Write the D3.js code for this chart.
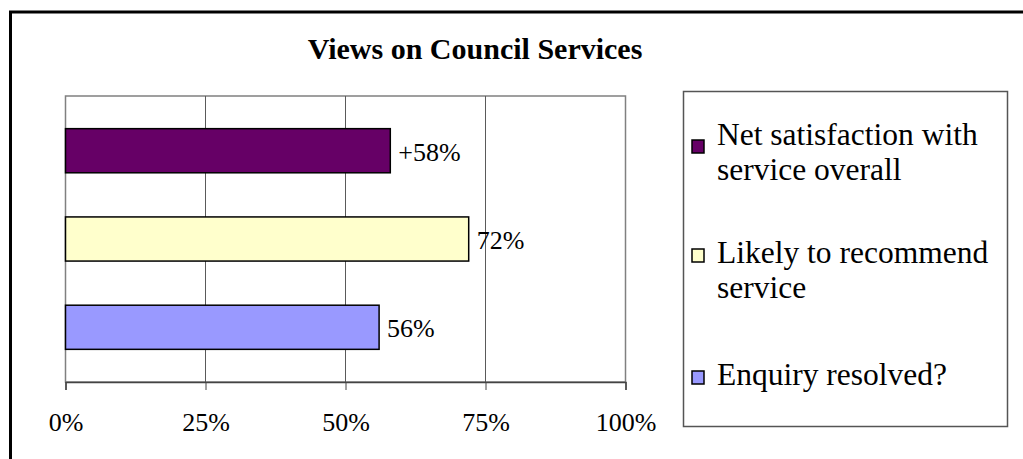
<!DOCTYPE html>
<html>
<head>
<meta charset="utf-8">
<script src="https://cdn.jsdelivr.net/npm/d3@7"></script>
<style>
    body { margin: 0; background: white; overflow: hidden; }
</style>
</head>
<body>
<script>
// values
let categories = [
    "Net satisfaction with service overall",
    "Likely to recommend service",
    "Enquiry resolved?",
]
let values = [58, 72, 56]
let labels = ["+58%", "72%", "56%"]
let legendLines = [
    ["Net satisfaction with", "service overall"],
    ["Likely to recommend", "service"],
    ["Enquiry resolved?"],
]
let ticks = [0, 25, 50, 75, 100]

const c = {
    purple: "#660066",
    yellow: "#FFFFCC",
    blue:   "#9999FF",
    grid:   "#5a5a5a",
    frame:  "#808080",
    black:  "#000000",
}
const colors = [c.purple, c.yellow, c.blue]
const font = "'Liberation Serif', 'Times New Roman', serif"

function setCanvas(w, h) {
    return d3.select("body")
        .append("svg")
            .attr("width", w)
            .attr("height", h)
            .style("font-family", font)
}

function draw() {
    const svg = setCanvas(1023, 459)
    const p = {left: 65.5, right: 625.5, top: 96, bottom: 382}

    // outer chart frame (runs past the picture on the right and bottom)
    svg.append("rect")
        .attr("x", 10.5).attr("y", 12)
        .attr("width", 1040).attr("height", 480)
        .attr("fill", "white")
        .attr("stroke", c.black)
        .attr("stroke-width", 3)

    svg.append("text")
        .attr("x", 475).attr("y", 59)
        .attr("text-anchor", "middle")
        .attr("font-weight", "bold")
        .attr("font-size", 30)
        .text("Views on Council Services")

    const x = d3.scaleLinear()
        .domain([0, 100])
        .range([p.left, p.right])

    const y = d3.scaleBand()
        .domain(categories)
        .range([p.top, p.bottom])
        .paddingInner(0.5)
        .paddingOuter(0.37)

    // plot area frame
    svg.append("rect")
        .attr("x", p.left).attr("y", p.top)
        .attr("width", p.right - p.left).attr("height", p.bottom - p.top)
        .attr("fill", "none")
        .attr("stroke", c.frame)
        .attr("stroke-width", 1.5)

    svg.append("g")
        .selectAll("line")
        .data(ticks.slice(1, -1))
        .join("line")
            .attr("x1", d => x(d)).attr("x2", d => x(d))
            .attr("y1", p.top).attr("y2", p.bottom)
            .attr("stroke", c.grid)
            .attr("stroke-width", 1)

    const axis = svg.append("g")
        .attr("transform", `translate(0,${p.bottom})`)
        .call(d3.axisBottom(x)
            .tickValues(ticks)
            .tickFormat(d => d + "%")
            .tickSize(8)
            .tickPadding(23))
    axis.select(".domain").attr("stroke", "#444").attr("stroke-width", 1.5)
    axis.selectAll(".tick line").attr("stroke", "#444")
    axis.selectAll(".tick text")
        .attr("fill", c.black)
        .style("font-family", font)
        .style("font-size", "26px")

    svg.append("g")
        .selectAll("rect")
        .data(values)
        .join("rect")
            .attr("x", x(0))
            .attr("y", (d, i) => y(categories[i]))
            .attr("width", d => x(d) - x(0))
            .attr("height", y.bandwidth())
            .attr("fill", (d, i) => colors[i])
            .attr("stroke", c.black)
            .attr("stroke-width", 1.5)

    svg.append("g")
        .selectAll("text")
        .data(values)
        .join("text")
            .attr("x", d => x(d) + 8)
            .attr("y", (d, i) => y(categories[i]) + y.bandwidth() / 2)
            .attr("dy", "0.38em")
            .attr("font-size", 26)
            .text((d, i) => labels[i])

    // legend
    const lg = svg.append("g")
    lg.append("rect")
        .attr("x", 683.5).attr("y", 91.5)
        .attr("width", 324).attr("height", 335)
        .attr("fill", "white")
        .attr("stroke", "#555")
        .attr("stroke-width", 1.5)

    const firstBase = [145, 263, 385]
    const items = lg.selectAll("g")
        .data(categories)
        .join("g")
            .attr("transform", (d, i) => `translate(0,${firstBase[i]})`)

    items.append("rect")
        .attr("x", 692).attr("y", (d, i) => i == 0 ? -5 : -14)
        .attr("width", 12).attr("height", 13)
        .attr("fill", (d, i) => colors[i])
        .attr("stroke", c.black)
        .attr("stroke-width", 1.5)

    items.append("text")
        .attr("x", 717)
        .attr("font-size", 31.5)
        .selectAll("tspan")
        .data((d, i) => legendLines[i])
        .join("tspan")
            .attr("x", 717)
            .attr("dy", (d, j) => j == 0 ? 0 : 35)
            .text(d => d)
}

draw()
</script>
</body>
</html>
